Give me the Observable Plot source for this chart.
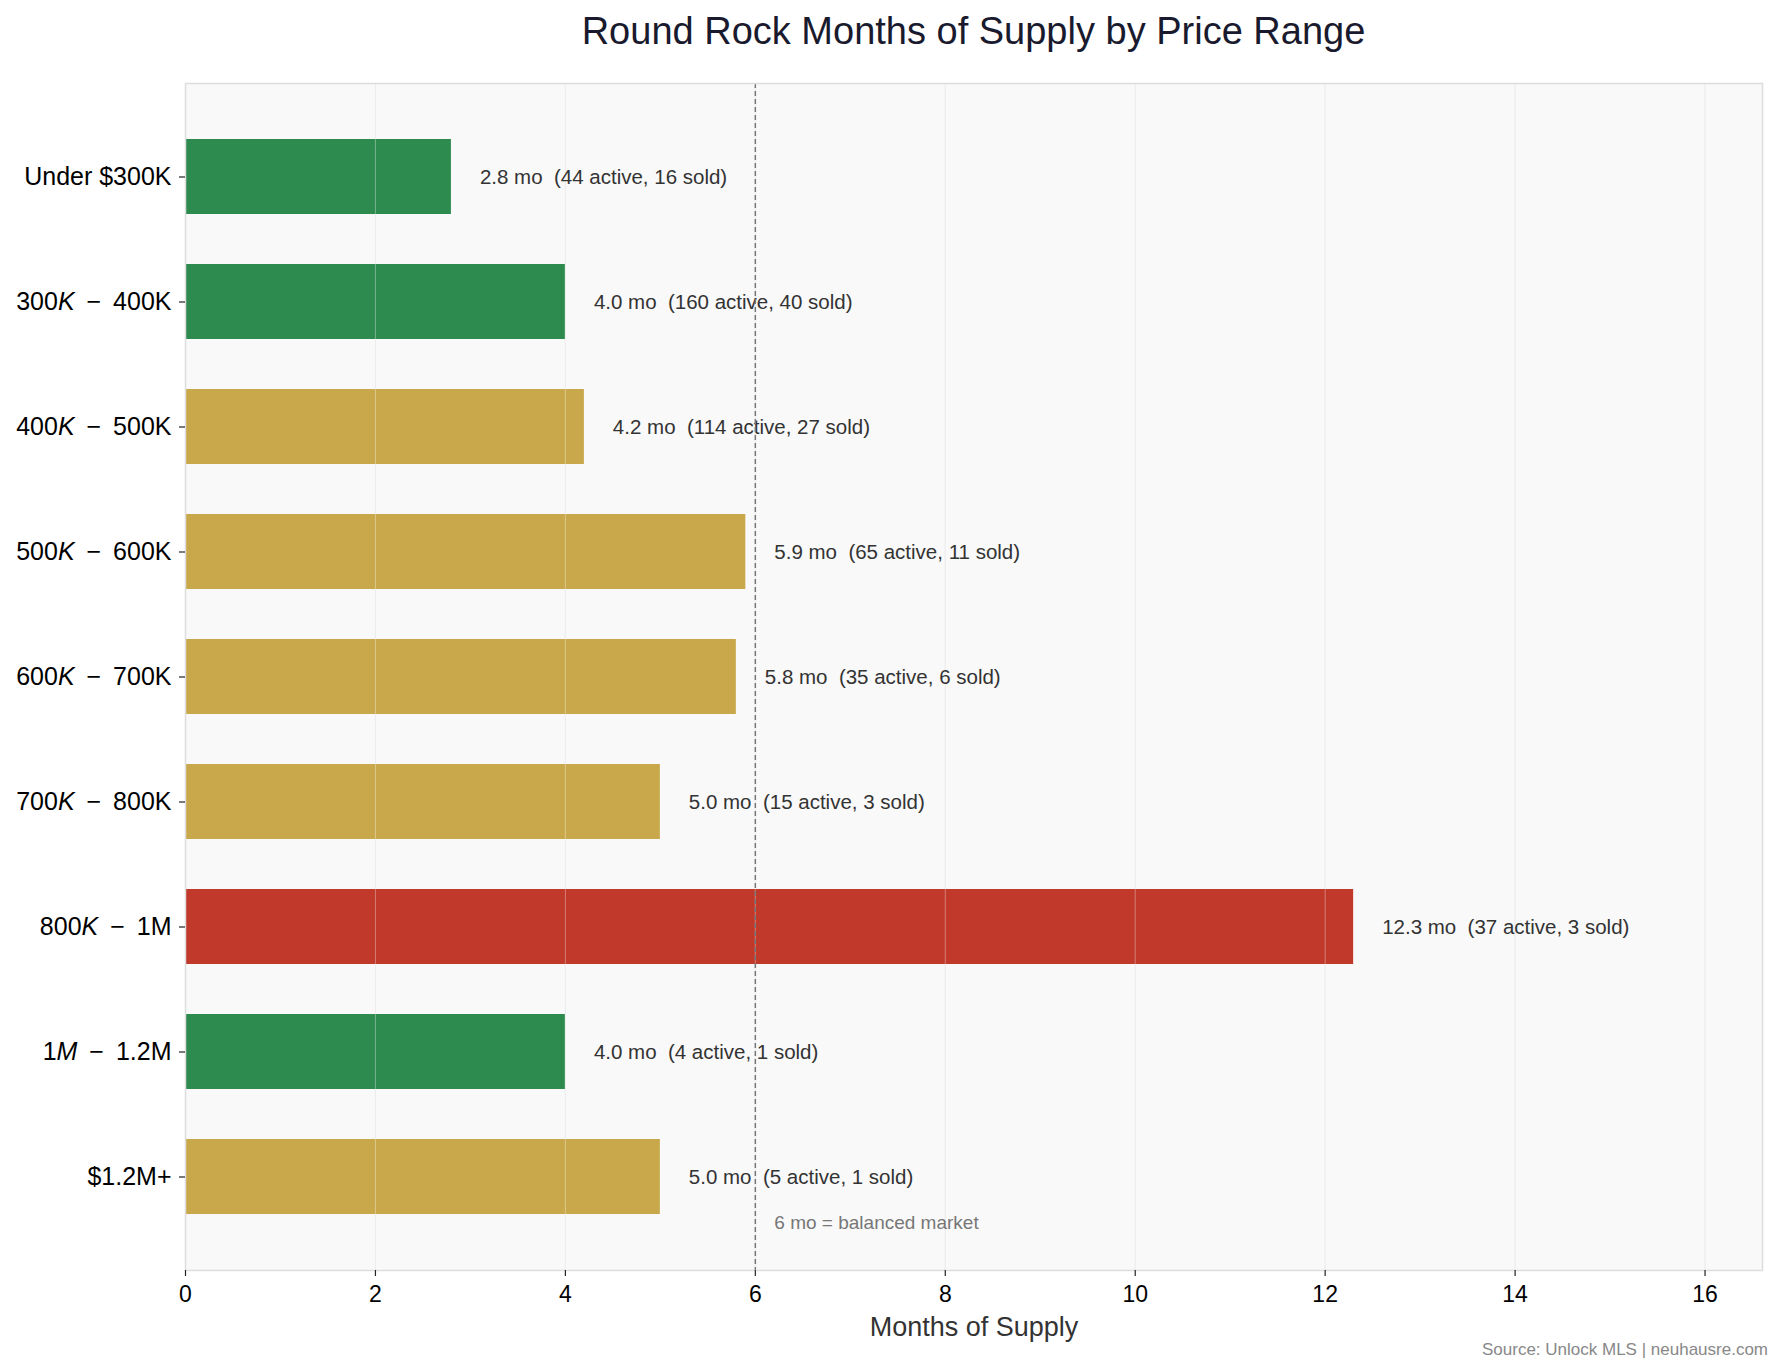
<!DOCTYPE html>
<html><head><meta charset="utf-8">
<script src="https://cdn.jsdelivr.net/npm/d3@7"></script>
<script src="https://cdn.jsdelivr.net/npm/@observablehq/plot@0.6"></script>
<style>
body{margin:0;background:#fff;font-family:"Liberation Sans",Arial,sans-serif;}
#wrap{width:1784px;height:1372px;position:relative;overflow:hidden;background:#fff}
#title{position:absolute;left:185px;width:1577px;top:6px;height:50px;line-height:50px;text-align:center;font-size:38px;color:#1a1a2e;}
#chart{position:absolute;left:0;top:60px;}
#source{position:absolute;right:16px;top:1339px;height:22px;line-height:22px;font-size:17px;color:#888;}
svg text{white-space:pre}
</style></head><body>
<div id="wrap">
<div id="title">Round Rock Months of Supply by Price Range</div>
<div id="chart"></div>
<div id="source">Source: Unlock MLS | neuhausre.com</div>
</div>
<script>
const categories = ["Under $300K","$300K-$400K","$400K-$500K","$500K-$600K","$600K-$700K","$700K-$800K","$800K-$1M","$1M-$1.2M","$1.2M+"];
const yLabels = ["Under $300K","300*K* \u2009−\u2009 400K","400*K* \u2009−\u2009 500K","500*K* \u2009−\u2009 600K","600*K* \u2009−\u2009 700K","700*K* \u2009−\u2009 800K","800*K* \u2009−\u2009 1M","1*M* \u2009−\u2009 1.2M","$1.2M+"];
const months = [2.8,4.0,4.2,5.9,5.8,5.0,12.3,4.0,5.0];
const active = [44,160,114,65,35,15,37,4,5];
const sold = [16,40,27,11,6,3,3,1,1];
const tierNames = ["seller","balanced","buyer"];
const tierColors = ["#2e8b4f","#c9a84c","#c0392b"];
const xTicks = [0,2,4,6,8,10,12,14,16];
const balancedLevel = 6;
const balancedNote = "6 mo = balanced market";
const xLabel = "Months of Supply";

const table = categories.map((c,i)=>({
  range:c, months:months[i], active:active[i], sold:sold[i],
  tier: months[i] <= 4 ? "seller" : months[i] <= 6 ? "balanced" : "buyer"
}));
const labelOf = new Map(categories.map((c,i)=>[c,yLabels[i]]));
const xMax = d3.max(months)*1.35;

const plot = Plot.plot({
  width:1784, height:1290,
  marginTop:23, marginBottom:80, marginLeft:185, marginRight:22,
  style:{fontFamily:"'Liberation Sans', Arial, sans-serif", fontSize:"20px", color:"#000", background:"transparent", overflow:"visible"},
  x:{domain:[0,xMax], label:null},
  y:{domain:categories, paddingInner:0.4, paddingOuter:0.424, label:null},
  color:{domain:tierNames, range:tierColors},
  marks:[
    Plot.frame({fill:"#f9f9f9", stroke:null}),
    Plot.gridX(xTicks,{stroke:"#e4e4e4", strokeOpacity:1, strokeWidth:1}),
    Plot.barX(table,{x:"months", y:"range", fill:"tier"}),
    Plot.gridX(xTicks,{stroke:"#ffffff", strokeOpacity:0.35, strokeWidth:1}),
    Plot.text(table,{x:d=>d.months+0.3, y:"range", text:d=>`${d.months.toFixed(1)} mo  (${d.active} active, ${d.sold} sold)`, textAnchor:"start", fontSize:20.5, fill:"#333"}),
    Plot.ruleX([balancedLevel],{stroke:"#777", strokeDasharray:"5,3", strokeWidth:1.5}),
    Plot.text([balancedNote],{x:()=>balancedLevel+0.2, frameAnchor:"bottom", dy:-42, textAnchor:"start", fontSize:19, fill:"#777"}),
    Plot.frame({stroke:"#dddddd", strokeWidth:1.5}),
    Plot.axisX(xTicks,{tickSize:6, tickPadding:9, fontSize:23, label:null, stroke:"#222", strokeWidth:1.2}),
    Plot.axisY({tickSize:6, tickPadding:8, fontSize:25, label:null, stroke:"#222", strokeWidth:1.2, tickFormat:d=>labelOf.get(d)}),
    Plot.text([xLabel],{frameAnchor:"bottom", dy:65, fontSize:27, fill:"#333"})
  ]
});
const ns="http://www.w3.org/2000/svg";
plot.querySelectorAll('[aria-label="y-axis tick label"] text').forEach(t=>{
  const parts=t.textContent.split("*");
  t.textContent="";
  parts.forEach((p,i)=>{const ts=document.createElementNS(ns,"tspan");ts.textContent=p;if(i%2)ts.setAttribute("font-style","italic");t.appendChild(ts);});
});
document.getElementById("chart").appendChild(plot);
</script>
</body></html>
